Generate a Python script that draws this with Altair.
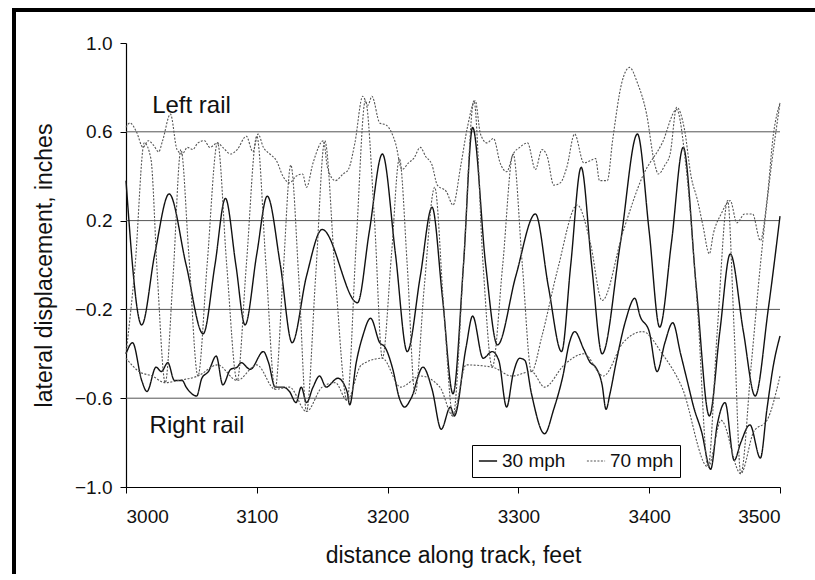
import altair as alt
import pandas as pd

# ---------------- data ----------------
# 30 mph, wheel (middle oscillation)
ft_30_wheel = [3000, 3012, 3022, 3033, 3046, 3059, 3068, 3076, 3084, 3091, 3100, 3108, 3118, 3127,
               3138, 3150, 3177, 3186, 3196, 3206, 3215, 3225, 3234, 3242, 3250, 3258, 3265, 3275,
               3284, 3298, 3313, 3323, 3333, 3340, 3348, 3356, 3364, 3378, 3391, 3400, 3408, 3417,
               3426, 3436, 3446, 3454, 3462, 3472, 3481, 3491, 3500]
v_30_wheel = [0.38, -0.27, 0.05, 0.32, 0.0, -0.31, 0.0, 0.30, 0.0, -0.27, 0.05, 0.31, 0.0, -0.35,
              -0.05, 0.16, -0.17, 0.15, 0.50, 0.05, -0.39, -0.05, 0.26, -0.15, -0.58, 0.0, 0.62, 0.0,
              -0.36, -0.05, 0.23, -0.10, -0.39, 0.0, 0.44, 0.0, -0.40, 0.10, 0.59, 0.15, -0.28, 0.10,
              0.53, -0.10, -0.68, -0.30, 0.05, -0.30, -0.59, -0.20, 0.22]

# 30 mph, right rail (bottom)
ft_30_right = [3000, 3005, 3012, 3016, 3023, 3027, 3032, 3037, 3043, 3046, 3054, 3058, 3063, 3069,
               3074, 3080, 3085, 3088, 3095, 3105, 3109, 3114, 3120, 3125, 3130, 3134, 3138, 3143,
               3148, 3153, 3162, 3169, 3171, 3176, 3181, 3187, 3194, 3198, 3204, 3209, 3213, 3218,
               3227, 3234, 3241, 3248, 3251, 3260, 3265, 3273, 3280, 3285, 3291, 3296, 3301, 3305,
               3310, 3320, 3327, 3334, 3339, 3343, 3350, 3355, 3359, 3364, 3367, 3370, 3375, 3382,
               3389, 3393, 3400, 3406, 3412, 3418, 3424, 3429, 3434, 3440, 3447, 3452, 3458, 3465,
               3470, 3477, 3485, 3490, 3495, 3500]
v_30_right = [-0.40, -0.35, -0.52, -0.57, -0.46, -0.48, -0.44, -0.52, -0.52, -0.55, -0.59, -0.51, -0.48, -0.41,
              -0.54, -0.47, -0.46, -0.44, -0.47, -0.39, -0.44, -0.55, -0.55, -0.57, -0.62, -0.55, -0.62, -0.55,
              -0.50, -0.55, -0.51, -0.57, -0.63, -0.44, -0.32, -0.24, -0.35, -0.37, -0.47, -0.60, -0.64, -0.60,
              -0.46, -0.56, -0.74, -0.64, -0.68, -0.37, -0.23, -0.42, -0.39, -0.43, -0.64, -0.49, -0.42, -0.43,
              -0.58, -0.76, -0.65, -0.50, -0.35, -0.30, -0.38, -0.44, -0.46, -0.54, -0.65, -0.58, -0.43, -0.25,
              -0.15, -0.23, -0.30, -0.48, -0.35, -0.26, -0.40, -0.52, -0.64, -0.75, -0.92, -0.72, -0.62, -0.88,
              -0.80, -0.72, -0.87, -0.65, -0.45, -0.32]

# 70 mph, wheel (large oscillation)
ft_70_wheel = [3000, 3007, 3014, 3019, 3024, 3030, 3036, 3042, 3048, 3055, 3062, 3070, 3077, 3085,
               3092, 3100, 3107, 3114, 3120, 3126, 3132, 3138, 3145, 3152, 3160, 3169, 3176, 3183,
               3190, 3196, 3203, 3209, 3215, 3221, 3228, 3236, 3243, 3250, 3258, 3266, 3273, 3280,
               3288, 3296, 3303, 3310, 3318, 3330, 3345, 3355, 3364, 3380, 3395, 3410, 3421, 3428,
               3437, 3445, 3452, 3460, 3465, 3470, 3478, 3485, 3492, 3500]
v_70_wheel = [-0.40, 0.0, 0.55, 0.48, -0.05, -0.53, -0.05, 0.52, 0.05, -0.50, 0.0, 0.55, 0.0, -0.52,
              0.0, 0.58, 0.0, -0.56, -0.05, 0.45, -0.05, -0.66, -0.05, 0.56, -0.05, -0.61, 0.10, 0.74,
              0.20, -0.42, 0.05, 0.48, 0.0, -0.58, -0.10, 0.35, -0.20, -0.68, 0.0, 0.74, 0.0, -0.46,
              0.0, 0.50, 0.0, -0.48, -0.32, -0.02, 0.27, 0.10, -0.16, 0.15, 0.40, 0.55, 0.70, 0.45,
              -0.20, -0.91, -0.30, 0.29, -0.30, -0.94, -0.45, 0.0, 0.38, 0.73]

# 70 mph, left rail (top)
ft_70_left = [3000, 3003, 3008, 3013, 3017, 3021, 3025, 3028, 3034, 3039, 3043, 3047, 3051, 3055,
              3060, 3064, 3070, 3074, 3080, 3085, 3092, 3097, 3101, 3105, 3110, 3115, 3120, 3125,
              3130, 3135, 3138, 3143, 3151, 3154, 3160, 3166, 3170, 3175, 3181, 3185, 3188, 3194,
              3199, 3206, 3211, 3216, 3220, 3225, 3229, 3234, 3238, 3245, 3250, 3256, 3261, 3267,
              3271, 3276, 3281, 3286, 3291, 3296, 3301, 3307, 3313, 3318, 3322, 3327, 3332, 3337,
              3343, 3350, 3355, 3359, 3362, 3368, 3372, 3379, 3385, 3391, 3398, 3404, 3407, 3412,
              3416, 3421, 3427, 3432, 3437, 3441, 3446, 3449, 3455, 3462, 3467, 3473, 3479, 3485,
              3490, 3495, 3500]
v_70_left = [0.62, 0.64, 0.60, 0.53, 0.56, 0.54, 0.51, 0.56, 0.68, 0.52, 0.50, 0.53, 0.52, 0.55,
             0.56, 0.53, 0.55, 0.53, 0.50, 0.52, 0.58, 0.51, 0.59, 0.53, 0.50, 0.47, 0.40, 0.37,
             0.40, 0.41, 0.35, 0.46, 0.56, 0.44, 0.38, 0.41, 0.43, 0.55, 0.76, 0.72, 0.76, 0.64,
             0.63, 0.55, 0.43, 0.46, 0.48, 0.53, 0.49, 0.45, 0.36, 0.33, 0.27, 0.45, 0.62, 0.74,
             0.59, 0.55, 0.57, 0.46, 0.42, 0.50, 0.53, 0.55, 0.43, 0.52, 0.49, 0.36, 0.37, 0.44,
             0.59, 0.46, 0.47, 0.48, 0.38, 0.38, 0.56, 0.82, 0.89, 0.82, 0.68, 0.46, 0.41, 0.45,
             0.50, 0.71, 0.61, 0.40, 0.29, 0.18, 0.05, 0.14, 0.23, 0.29, 0.19, 0.23, 0.23, 0.11,
             0.29, 0.59, 0.73]

# 70 mph, right rail (bottom)
ft_70_right = [3000, 3010, 3020, 3030, 3040, 3055, 3070, 3085, 3100, 3114, 3125, 3138, 3150, 3160,
               3169, 3180, 3196, 3210, 3225, 3240, 3250, 3260, 3280, 3295, 3310, 3320, 3335, 3350,
               3365, 3380, 3395, 3410, 3425, 3445, 3455, 3470, 3480, 3490, 3500]
v_70_right = [-0.42, -0.48, -0.50, -0.53, -0.52, -0.50, -0.45, -0.52, -0.45, -0.56, -0.55, -0.66, -0.55, -0.53,
              -0.61, -0.45, -0.42, -0.55, -0.50, -0.55, -0.68, -0.45, -0.46, -0.50, -0.48, -0.55, -0.45, -0.40,
              -0.50, -0.35, -0.30, -0.40, -0.55, -0.91, -0.70, -0.94, -0.75, -0.70, -0.50]

speeds = ["30 mph", "70 mph"]
grid_values = [0.6, 0.2, -0.2, -0.6]
y_tick_values = [1.0, 0.6, 0.2, -0.2, -0.6, -1.0]
x_tick_values = [3000, 3100, 3200, 3300, 3400, 3500]
annot_text = ["Left rail", "Right rail"]
annot_ft = [3020, 3018]
annot_v = [0.685, -0.757]

# ---------------- build tables ----------------
parts = []
for name, speed, fts, vs in [
    ("30 wheel", speeds[0], ft_30_wheel, v_30_wheel),
    ("30 right", speeds[0], ft_30_right, v_30_right),
    ("70 wheel", speeds[1], ft_70_wheel, v_70_wheel),
    ("70 left", speeds[1], ft_70_left, v_70_left),
    ("70 right", speeds[1], ft_70_right, v_70_right),
]:
    parts.append(pd.DataFrame({"ft": fts, "v": vs, "series": name, "speed": speed}))
df = pd.concat(parts, ignore_index=True)

grid_df = pd.DataFrame({"g": grid_values})
annot_df = pd.DataFrame({"label": annot_text, "ft": annot_ft, "v": annot_v})

xscale = alt.Scale(domain=[3000, 3500], nice=False)
yscale = alt.Scale(domain=[-1.0, 1.0], nice=False)

grid = alt.Chart(grid_df).mark_rule(color="#555555", strokeWidth=1).encode(
    y=alt.Y("g:Q", scale=yscale)
)

lines = alt.Chart(df).mark_line(interpolate="monotone").encode(
    x=alt.X("ft:Q", scale=xscale,
            axis=alt.Axis(values=x_tick_values, format="d", title="distance along track, feet",
                          grid=False, tickSize=6, labelPadding=14, titlePadding=18)),
    y=alt.Y("v:Q", scale=yscale,
            axis=alt.Axis(values=y_tick_values, format=".1f", title="lateral displacement, inches",
                          grid=False, tickSize=6, labelPadding=8, titlePadding=18)),
    color=alt.Color("speed:N", scale=alt.Scale(domain=speeds, range=["#111111", "#555555"]),
                    legend=alt.Legend(title=None)),
    strokeDash=alt.StrokeDash("speed:N", scale=alt.Scale(domain=speeds, range=[[1, 0], [2, 1.5]]),
                              legend=alt.Legend(title=None)),
    strokeWidth=alt.StrokeWidth("speed:N", scale=alt.Scale(domain=speeds, range=[1.4, 1.1]),
                                legend=None),
    detail="series:N",
)

annots = alt.Chart(annot_df).mark_text(align="left", baseline="alphabetic", fontSize=24,
                                       font="Liberation Sans", color="#111111").encode(
    x=alt.X("ft:Q", scale=xscale),
    y=alt.Y("v:Q", scale=yscale),
    text="label:N",
)

one = pd.DataFrame({"a": [0]})
frame_left = alt.Chart(one).mark_rect(color="#000000", clip=False).encode(
    x=alt.value(-114), x2=alt.value(-110), y=alt.value(-35), y2=alt.value(531)
)
frame_top = alt.Chart(one).mark_rect(color="#000000", clip=False).encode(
    x=alt.value(-114), x2=alt.value(689), y=alt.value(-35), y2=alt.value(-31)
)

chart = alt.layer(grid, lines, annots, frame_left, frame_top).properties(
    width=654, height=444,
    autosize=alt.AutoSizeParams(type="none"),
    padding={"left": 126, "top": 43, "right": 35, "bottom": 87},
    background="white",
).configure(
    font="Liberation Sans"
).configure_view(
    stroke=None
).configure_axis(
    domainColor="#000000", domainWidth=1.2, tickColor="#000000",
    labelFontSize=19, labelColor="#111111", titleFontSize=23, titleFontWeight="normal",
    titleColor="#111111", labelFont="Liberation Sans", titleFont="Liberation Sans"
).configure_legend(
    orient="none", legendX=346, legendY=402, direction="horizontal",
    strokeColor="#000000", fillColor="white", padding=6, cornerRadius=0,
    labelFontSize=19, labelColor="#111111", symbolType="stroke", symbolSize=330,
    symbolStrokeWidth=1.3, columnPadding=18, labelOffset=4
)

chart.save("out.html", embed_options={"renderer": "svg", "actions": False})
